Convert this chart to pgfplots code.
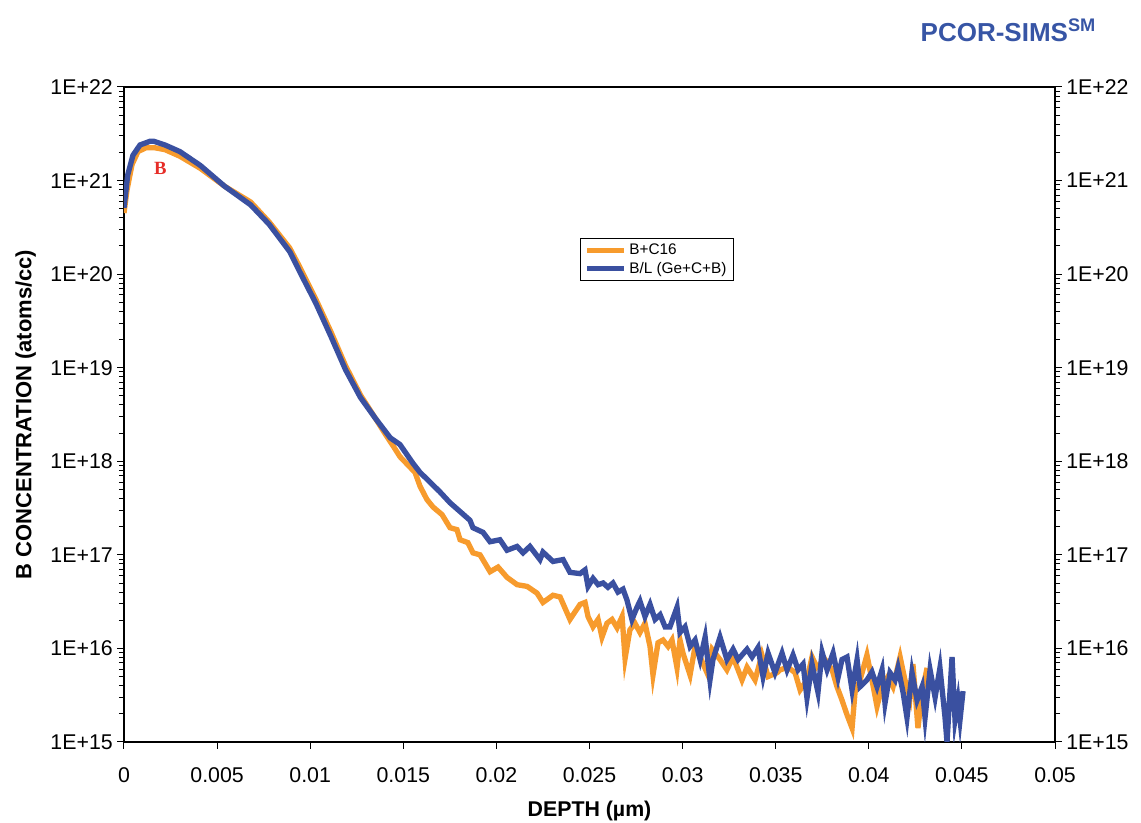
\documentclass[border=0pt]{standalone}
\usepackage{fontspec}
\setmainfont{Liberation Sans}
\newfontfamily\serifB{Liberation Serif}
\usepackage{pgfplots}
\pgfplotsset{compat=1.18}
\pgfplotsset{legend image code/.code={\draw[#1, line width=3.5pt] (0pt,0pt) -- (28pt,0pt);}}
\definecolor{orng}{RGB}{247,155,45}
\definecolor{blu}{RGB}{58,80,160}
\definecolor{logoblue}{RGB}{55,85,165}
\definecolor{redB}{RGB}{230,45,40}
\begin{document}
\begin{tikzpicture}
\path[use as bounding box] (-93pt,-60pt) rectangle (762.75pt,556.5pt);
\begin{axis}[
  width=698.25pt, height=491.25pt, scale only axis,
  xmin=0, xmax=0.05, ymin=1e15, ymax=1e22, ymode=log,
  ytick={1e15,1e16,1e17,1e18,1e19,1e20,1e21,1e22},
  yticklabels={1E+15,1E+16,1E+17,1E+18,1E+19,1E+20,1E+21,1E+22},
  ytick pos=left,
  xtick={0,0.005,0.01,0.015,0.02,0.025,0.03,0.035,0.04,0.045,0.05},
  xticklabels={0,0.005,0.01,0.015,0.02,0.025,0.03,0.035,0.04,0.045,0.05},
  scaled x ticks=false,
  xtick pos=bottom,
  axis line style={line width=1.5pt},
  tick style={line width=0.75pt, black},
  tick align=outside, major tick length=4.9pt, minor tick length=3.75pt,
  tick label style={font=\fontsize{16}{19}\selectfont},
  xticklabel style={yshift=-11pt},
  xlabel={\bfseries DEPTH (µm)},
  ylabel={\bfseries B CONCENTRATION (atoms/cc)},
  xlabel style={font=\fontsize{16}{19}\selectfont, yshift=-7pt},
  ylabel style={font=\fontsize{16.5}{19}\selectfont, yshift=4pt},
  legend style={at={(0.49,0.769)}, anchor=north west,
    font=\fontsize{11.5}{14}\selectfont, draw=black, line width=0.75pt},
  legend cell align=left,
]
\addplot[orng, line width=4pt] coordinates {
(0,4.5e20) (0.00016,7.9e20) (0.00043,1.48e21) (0.00075,2.04e21) (0.00118,2.24e21)
(0.00166,2.24e21) (0.0022,2.14e21) (0.003,1.82e21) (0.0041,1.35e21) (0.0054,8.7e20)
(0.0068,5.9e20) (0.0078,3.6e20) (0.0089,1.9e20) (0.00945,1.18e20) (0.0103,5.4e19)
(0.0111,2.45e19) (0.0119,1.05e19) (0.0127,5.1e18) (0.0135,2.88e18) (0.014,2.0e18)
(0.0145,1.41e18) (0.01482,1.12e18) (0.01563,7.6e17) (0.0159,5.4e17) (0.01627,3.9e17)
(0.0166,3.24e17) (0.01708,2.69e17) (0.01751,1.95e17) (0.01788,1.86e17) (0.01805,1.45e17)
(0.01847,1.35e17) (0.01874,1.05e17) (0.01912,1.0e17) (0.01966,6.6e16) (0.02009,7.4e16)
(0.02057,5.75e16) (0.02111,4.8e16) (0.02165,4.6e16) (0.02218,3.9e16) (0.0225,3.1e16)
(0.02304,3.7e16) (0.02342,3.55e16) (0.02395,2.04e16) (0.02449,2.95e16) (0.02476,3.1e16)
(0.02492,2.19e16) (0.02519,1.7e16) (0.02546,2.04e16) (0.02567,1.32e16) (0.02594,1.86e16)
(0.02621,2.04e16) (0.02648,1.66e16) (0.02675,2.19e16) (0.02691,7.8e15) (0.02717,1.58e16)
(0.02744,1.86e16) (0.02771,1.48e16) (0.02798,1.86e16) (0.02825,1.05e16) (0.02841,5.2e15)
(0.02868,1.15e16) (0.02895,1.23e16) (0.02922,1.05e16) (0.02943,1.23e16) (0.0297,6.2e15)
(0.02986,1.23e16) (0.03002,8.9e15) (0.0304,5.2e15) (0.03067,1.05e16) (0.03094,8.1e15)
(0.03131,5.5e15) (0.03158,9.8e15) (0.03201,7.6e15) (0.03238,5.9e15) (0.03271,8.1e15)
(0.03319,4.6e15) (0.03346,6.3e15) (0.03389,4.6e15) (0.03426,8.5e15) (0.03459,5.0e15)
(0.03507,5.5e15) (0.03523,5.9e15) (0.03566,6.3e15) (0.03604,5.5e15) (0.03631,3.6e15)
(0.03668,4.6e15) (0.03695,8.1e15) (0.03722,6.3e15) (0.03765,7.6e15) (0.03803,5.9e15)
(0.03829,3.9e15) (0.03856,2.8e15) (0.03883,1.95e15) (0.0391,1.41e15) (0.03926,3.4e15)
(0.03953,4.6e15) (0.0399,8.5e15) (0.04017,4.6e15) (0.04044,2.4e15) (0.04071,3.9e15)
(0.04103,5.0e15) (0.0413,3.9e15) (0.04168,8.1e15) (0.04194,4.6e15) (0.04221,3.0e15)
(0.04237,6.8e15) (0.04264,1.41e15) (0.04286,3.4e15) (0.04313,6.2e15)
};
\addlegendentry{B+C16}
\addplot[blu, line width=4pt] coordinates {
(0,5.1e20) (0.0002,1.15e21) (0.00048,1.86e21) (0.00086,2.4e21) (0.0014,2.63e21)
(0.0016,2.63e21) (0.0022,2.4e21) (0.003,2.04e21) (0.0041,1.45e21) (0.0054,8.7e20)
(0.0068,5.5e20) (0.0078,3.4e20) (0.0089,1.74e20) (0.00945,1.05e20) (0.0103,4.9e19)
(0.0111,2.19e19) (0.0119,9.5e18) (0.0127,4.8e18) (0.0135,2.88e18) (0.0143,1.78e18)
(0.01482,1.51e18) (0.01552,9.5e17) (0.0159,7.6e17) (0.01643,6.0e17) (0.01697,4.7e17)
(0.01751,3.6e17) (0.01805,2.9e17) (0.01858,2.34e17) (0.01874,1.95e17) (0.01928,1.74e17)
(0.01966,1.38e17) (0.02019,1.45e17) (0.02057,1.12e17) (0.02111,1.23e17) (0.02143,1.05e17)
(0.0218,1.23e17) (0.02234,8.9e16) (0.0225,1.07e17) (0.02304,8.5e16) (0.02358,8.9e16)
(0.02395,6.5e16) (0.02449,6.3e16) (0.02476,6.9e16) (0.02492,4.6e16) (0.02519,5.6e16)
(0.02546,4.8e16) (0.02573,5.0e16) (0.02599,4.5e16) (0.02626,5.0e16) (0.02653,4.0e16)
(0.0268,4.3e16) (0.02701,3.3e16) (0.02728,2.04e16) (0.02755,2.75e16) (0.02771,3.2e16)
(0.02798,2.19e16) (0.02825,2.95e16) (0.02852,2.04e16) (0.02879,2.29e16) (0.02906,1.7e16)
(0.02932,1.7e16) (0.0297,2.75e16) (0.02986,1.48e16) (0.03013,1.7e16) (0.0304,1.05e16)
(0.03067,1.23e16) (0.03094,7.6e15) (0.03121,1.32e16) (0.03147,4.6e15) (0.03163,7.6e15)
(0.03201,1.32e16) (0.03238,7.6e15) (0.03271,9.8e15) (0.03298,7.6e15) (0.03346,9.8e15)
(0.03373,8.1e15) (0.03405,1.02e16) (0.03432,5.0e15) (0.03459,8.9e15) (0.03496,5.5e15)
(0.03534,8.9e15) (0.03561,5.9e15) (0.03593,8.5e15) (0.0362,5.9e15) (0.03647,6.8e15)
(0.03668,2.95e15) (0.03695,6.8e15) (0.03727,3.4e15) (0.03749,9.1e15) (0.03776,5.9e15)
(0.03808,8.9e15) (0.03835,4.9e15) (0.03856,7.6e15) (0.03883,8.1e15) (0.0391,3.6e15)
(0.03937,7.6e15) (0.03953,3.9e15) (0.0399,4.6e15) (0.04017,5.6e15) (0.04044,3.9e15)
(0.04071,5.9e15) (0.04087,2.6e15) (0.04114,5.5e15) (0.04141,4.6e15) (0.04157,6.2e15)
(0.04184,3.4e15) (0.04205,1.82e15) (0.04232,5.5e15) (0.04259,2.8e15) (0.04286,3.9e15)
(0.04302,1.82e15) (0.04329,5.9e15) (0.04356,3.0e15) (0.04382,6.2e15) (0.04409,1.86e15)
(0.0442,1.0e15) (0.04447,8.1e15) (0.04463,1.74e15) (0.04479,2.8e15) (0.0449,1.74e15)
(0.04506,3.5e15)
};
\addlegendentry{B/L (Ge+C+B)}
\node[font=\serifB\bfseries\fontsize{14}{16}\selectfont, text=redB] at (axis cs:0.00195,1.35e21) {B};
\end{axis}
\begin{axis}[
  width=698.25pt, height=491.25pt, scale only axis,
  xmin=0, xmax=0.05, ymin=1e15, ymax=1e22, ymode=log,
  axis x line=none, axis y line*=right,
  ytick={1e15,1e16,1e17,1e18,1e19,1e20,1e21,1e22},
  yticklabels={1E+15,1E+16,1E+17,1E+18,1E+19,1E+20,1E+21,1E+22},
  axis line style={line width=1.5pt},
  tick style={line width=0.75pt, black},
  tick align=outside, major tick length=4.9pt, minor tick length=3.75pt,
  tick label style={font=\fontsize{16}{19}\selectfont},
]
\end{axis}
\node[font=\bfseries\fontsize{19.5}{22}\selectfont, text=logoblue, anchor=west]
  at (594pt,534pt) {PCOR-SIMS\textsuperscript{SM}};
\end{tikzpicture}
\end{document}
